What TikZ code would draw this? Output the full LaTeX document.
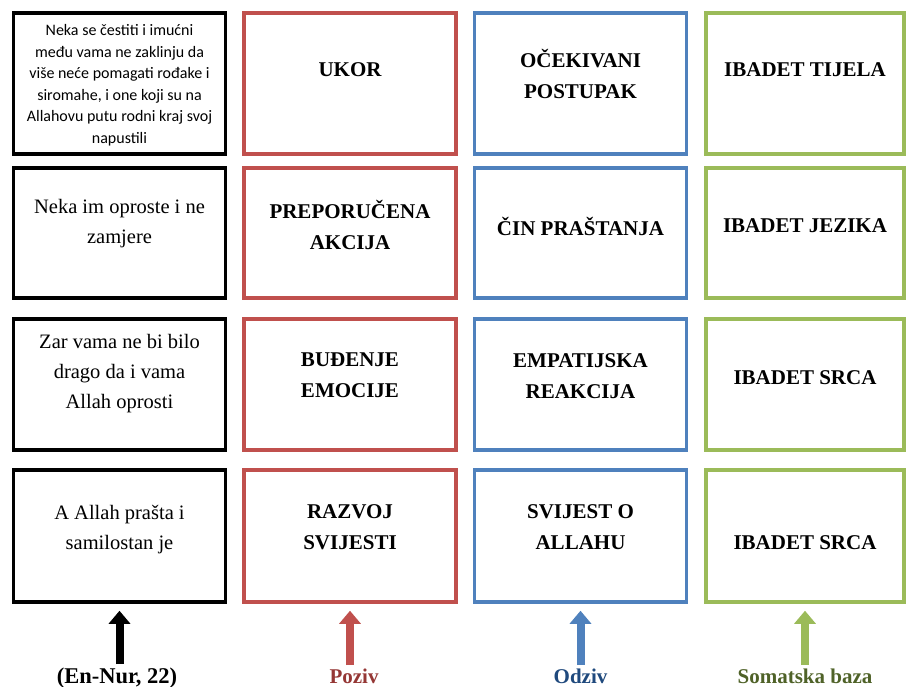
\documentclass[tikz,border=0pt]{standalone}
\usepackage{fontspec}
\setmainfont{Liberation Serif}
\newfontfamily\calibrifont{Carlito}
\usetikzlibrary{arrows.meta}

\definecolor{pozivline}{HTML}{C0504D}
\definecolor{odzivline}{HTML}{4F81BD}
\definecolor{bazaline}{HTML}{9BBB59}
\definecolor{pozivtext}{HTML}{953735}
\definecolor{odzivtext}{HTML}{1F497D}
\definecolor{bazatext}{HTML}{4F6228}

\begin{document}
\begin{tikzpicture}[x=1pt, y=-1pt,
    cell/.style={draw=#1, line width=3.5pt, minimum width=212pt, inner sep=0pt},
    cell/.default=black,
    headtext/.style={font=\bfseries\fontsize{21}{31}\selectfont, align=center, inner sep=0pt},
    versetext/.style={font=\fontsize{20.5}{30}\selectfont, align=center, inner sep=0pt},
    basetag/.style={font=\bfseries\fontsize{21}{25}\selectfont, inner sep=0pt, anchor=base},
    risearrow/.style={draw=#1, line width=8pt, -{Triangle[length=13pt, width=21pt]}, shorten >=7pt, shorten <=3pt}]
    \useasboundingbox (0,0) rectangle (908,687);

    % ayah column
    \node[cell, minimum height=141pt] (ayah1) at (119.5,83.5) {};
    \node[cell, minimum height=130pt] (ayah2) at (119.5,233) {};
    \node[cell, minimum height=131pt] (ayah3) at (119.5,384.5) {};
    \node[cell, minimum height=132pt] (ayah4) at (119.5,536) {};
    \node[versetext, font=\calibrifont\fontsize{16}{21.5}\selectfont] (ayah1-t) at (119.5,85)
        {Neka se čestiti i imućni\\ među vama ne zaklinju da\\ više neće pomagati rođake i\\ siromahe, i one koji su na\\ Allahovu putu rodni kraj svoj\\ napustili};
    \node[versetext] (ayah2-t) at (119.5,224) {Neka im oproste i ne\\ zamjere};
    \node[versetext] (ayah3-t) at (119.5,374) {Zar vama ne bi bilo\\ drago da i vama\\ Allah oprosti};
    \node[versetext] (ayah4-t) at (119.5,530) {A Allah prašta i\\ samilostan je};

    % poziv column
    \node[cell=pozivline, minimum height=141pt] (poziv1) at (350,83.5) {};
    \node[cell=pozivline, minimum height=130pt] (poziv2) at (350,233) {};
    \node[cell=pozivline, minimum height=131pt] (poziv3) at (350,384.5) {};
    \node[cell=pozivline, minimum height=132pt] (poziv4) at (350,536) {};
    \node[headtext] (poziv1-t) at (350,70) {UKOR};
    \node[headtext] (poziv2-t) at (350,225) {PREPORUČENA\\ AKCIJA};
    \node[headtext] (poziv3-t) at (350,375) {BUĐENJE\\ EMOCIJE};
    \node[headtext] (poziv4-t) at (350,527) {RAZVOJ\\ SVIJESTI};

    % odziv column
    \node[cell=odzivline, minimum height=141pt] (odziv1) at (580.5,83.5) {};
    \node[cell=odzivline, minimum height=130pt] (odziv2) at (580.5,233) {};
    \node[cell=odzivline, minimum height=131pt] (odziv3) at (580.5,384.5) {};
    \node[cell=odzivline, minimum height=132pt] (odziv4) at (580.5,536) {};
    \node[headtext] (odziv1-t) at (580.5,74) {OČEKIVANI\\ POSTUPAK};
    \node[headtext] (odziv2-t) at (580.5,226) {ČIN PRAŠTANJA};
    \node[headtext] (odziv3-t) at (580.5,376) {EMPATIJSKA\\ REAKCIJA};
    \node[headtext] (odziv4-t) at (580.5,527) {SVIJEST O\\ ALLAHU};

    % somatska baza column
    \node[cell=bazaline, minimum width=198pt, minimum height=141pt] (baza1) at (805,83.5) {};
    \node[cell=bazaline, minimum width=198pt, minimum height=130pt] (baza2) at (805,233) {};
    \node[cell=bazaline, minimum width=198pt, minimum height=131pt] (baza3) at (805,384.5) {};
    \node[cell=bazaline, minimum width=198pt, minimum height=132pt] (baza4) at (805,536) {};
    \node[headtext] (baza1-t) at (805,70) {IBADET TIJELA};
    \node[headtext] (baza2-t) at (805,226) {IBADET JEZIKA};
    \node[headtext] (baza3-t) at (805,378) {IBADET SRCA};
    \node[headtext] (baza4-t) at (805,543) {IBADET SRCA};

    % bottom tags
    \node[basetag, font=\bfseries\fontsize{22.5}{25}\selectfont] (ayah-tag) at (117,683) {(En-Nur, 22)};
    \node[basetag, text=pozivtext] (poziv-tag) at (354,683) {Poziv};
    \node[basetag, text=odzivtext] (odziv-tag) at (580.5,683) {Odziv};
    \node[basetag, text=bazatext] (baza-tag) at (805,683) {Somatska baza};

    \draw[risearrow=black] (ayah-tag.north -| ayah4.south) -- (ayah4.south);
    \draw[risearrow=pozivline] (poziv-tag.north -| poziv4.south) -- (poziv4.south);
    \draw[risearrow=odzivline] (odziv-tag.north) -- (odziv4.south);
    \draw[risearrow=bazaline] (baza-tag.north) -- (baza4.south);
\end{tikzpicture}
\end{document}
